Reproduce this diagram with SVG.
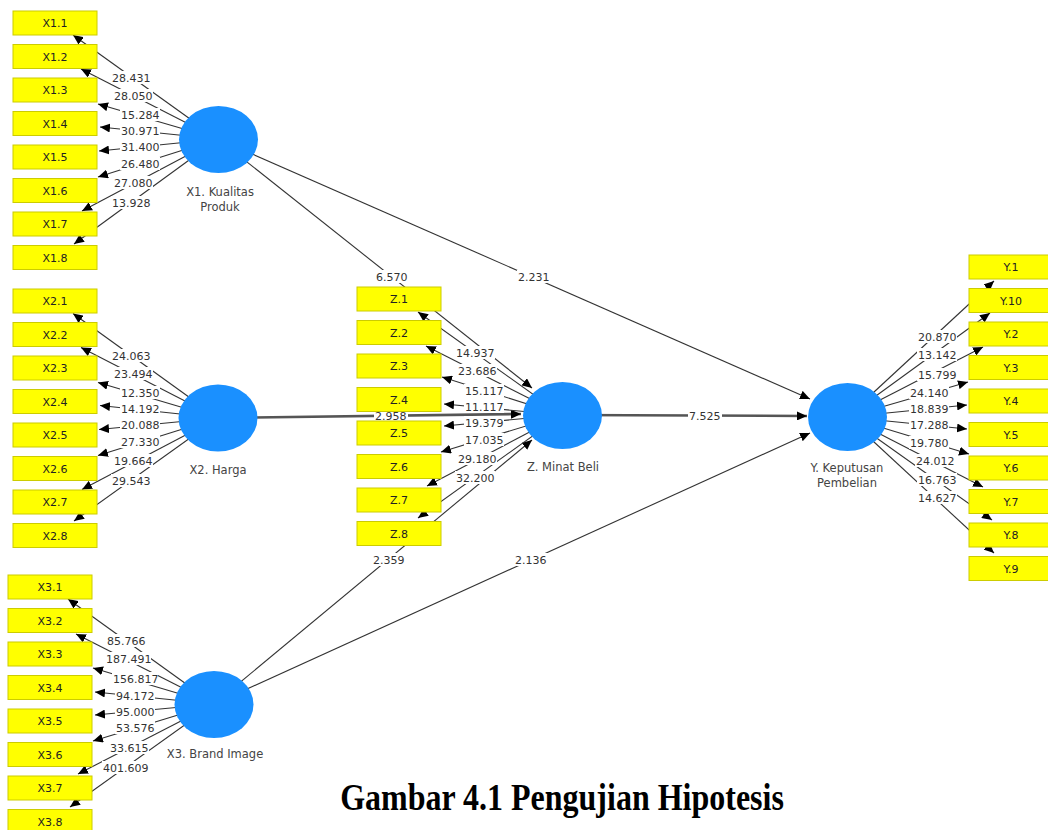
<svg xmlns="http://www.w3.org/2000/svg" width="1048" height="830" viewBox="0 0 1048 830">
<style>
.box{fill:#ffff00;stroke:#cccc00;stroke-width:1}
.bt{font-family:"DejaVu Sans",sans-serif;font-size:11px;fill:#222;text-anchor:middle}
.lv{fill:#1a90ff}
.nt{font-family:"DejaVu Sans",sans-serif;font-size:11.5px;fill:#444;text-anchor:middle}
.ln{stroke:#333;stroke-width:1.1;fill:none;marker-end:url(#ah)}
.thick{stroke:#555;stroke-width:2.6;fill:none;marker-end:url(#ah)}
.lb{font-family:"DejaVu Sans",sans-serif;font-size:11px;fill:#333}
.bg{fill:#fff}
.title{font-family:"Liberation Serif","Times New Roman",serif;font-size:32px;font-weight:bold;fill:#000;text-anchor:middle}
</style>
<defs>
<marker id="ah" markerUnits="userSpaceOnUse" markerWidth="11" markerHeight="9" refX="10" refY="4.5" orient="auto">
<path d="M0,0 L10,4.5 L0,9 z" fill="#000"/>
</marker>
</defs>
<g id="connectors">
<line class="ln" x1="218" y1="139" x2="532" y2="388"/>
<line class="ln" x1="218" y1="139" x2="810" y2="399"/>
<line class="thick" x1="218" y1="418" x2="521" y2="414"/>
<line class="thick" x1="562" y1="415" x2="807" y2="416"/>
<line class="ln" x1="214" y1="704" x2="532" y2="440"/>
<line class="ln" x1="214" y1="704" x2="810" y2="433"/>
<line class="ln" x1="218" y1="139" x2="73" y2="35"/>
<line class="ln" x1="218" y1="139" x2="81" y2="69"/>
<line class="ln" x1="218" y1="139" x2="98" y2="104"/>
<line class="ln" x1="218" y1="139" x2="100" y2="127"/>
<line class="ln" x1="218" y1="139" x2="99" y2="151"/>
<line class="ln" x1="218" y1="139" x2="98" y2="177"/>
<line class="ln" x1="218" y1="139" x2="82" y2="211"/>
<line class="ln" x1="218" y1="139" x2="74" y2="244"/>
<line class="ln" x1="218" y1="418" x2="73" y2="313.5"/>
<line class="ln" x1="218" y1="418" x2="81" y2="347.5"/>
<line class="ln" x1="218" y1="418" x2="98" y2="382.5"/>
<line class="ln" x1="218" y1="418" x2="100" y2="405.5"/>
<line class="ln" x1="218" y1="418" x2="99" y2="429.5"/>
<line class="ln" x1="218" y1="418" x2="98" y2="455.5"/>
<line class="ln" x1="218" y1="418" x2="82" y2="489.5"/>
<line class="ln" x1="218" y1="418" x2="74" y2="521"/>
<line class="ln" x1="214" y1="704" x2="68" y2="599"/>
<line class="ln" x1="214" y1="704" x2="76" y2="634"/>
<line class="ln" x1="214" y1="704" x2="93" y2="668"/>
<line class="ln" x1="214" y1="704" x2="95" y2="692"/>
<line class="ln" x1="214" y1="704" x2="95" y2="715"/>
<line class="ln" x1="214" y1="704" x2="93" y2="741"/>
<line class="ln" x1="214" y1="704" x2="78" y2="774"/>
<line class="ln" x1="214" y1="704" x2="70" y2="807"/>
<line class="ln" x1="562" y1="415" x2="418" y2="312"/>
<line class="ln" x1="562" y1="415" x2="426" y2="346"/>
<line class="ln" x1="562" y1="415" x2="442" y2="377"/>
<line class="ln" x1="562" y1="415" x2="444" y2="404"/>
<line class="ln" x1="562" y1="415" x2="444" y2="426"/>
<line class="ln" x1="562" y1="415" x2="441" y2="452"/>
<line class="ln" x1="562" y1="415" x2="427" y2="486"/>
<line class="ln" x1="562" y1="415" x2="418" y2="518"/>
<line class="ln" x1="847" y1="417" x2="994" y2="281"/>
<line class="ln" x1="847" y1="417" x2="990" y2="313"/>
<line class="ln" x1="847" y1="417" x2="983" y2="347"/>
<line class="ln" x1="847" y1="417" x2="968" y2="382"/>
<line class="ln" x1="847" y1="417" x2="967" y2="405"/>
<line class="ln" x1="847" y1="417" x2="967" y2="429"/>
<line class="ln" x1="847" y1="417" x2="969" y2="454"/>
<line class="ln" x1="847" y1="417" x2="983" y2="487"/>
<line class="ln" x1="847" y1="417" x2="992" y2="520"/>
<line class="ln" x1="847" y1="417" x2="994" y2="553"/>
<rect class="bg" x="375" y="270" width="34" height="13"/><text class="lb" x="376" y="281">6.570</text>
<rect class="bg" x="517" y="270" width="34" height="13"/><text class="lb" x="518" y="281">2.231</text>
<rect class="bg" x="374" y="409" width="34" height="13"/><text class="lb" x="375" y="420">2.958</text>
<rect class="bg" x="688" y="409" width="34" height="13"/><text class="lb" x="689" y="420">7.525</text>
<rect class="bg" x="372" y="553" width="34" height="13"/><text class="lb" x="373" y="564">2.359</text>
<rect class="bg" x="514" y="553" width="34" height="13"/><text class="lb" x="515" y="564">2.136</text>
<rect class="bg" x="111" y="71" width="40" height="13"/><text class="lb" x="112" y="82">28.431</text>
<rect class="bg" x="113" y="89" width="40" height="13"/><text class="lb" x="114" y="100">28.050</text>
<rect class="bg" x="120" y="108" width="40" height="13"/><text class="lb" x="121" y="119">15.284</text>
<rect class="bg" x="120" y="124" width="40" height="13"/><text class="lb" x="121" y="135">30.971</text>
<rect class="bg" x="120" y="140" width="40" height="13"/><text class="lb" x="121" y="151">31.400</text>
<rect class="bg" x="120" y="157" width="40" height="13"/><text class="lb" x="121" y="168">26.480</text>
<rect class="bg" x="113" y="176" width="40" height="13"/><text class="lb" x="114" y="187">27.080</text>
<rect class="bg" x="111" y="196" width="40" height="13"/><text class="lb" x="112" y="207">13.928</text>
<rect class="bg" x="111" y="349" width="40" height="13"/><text class="lb" x="112" y="360">24.063</text>
<rect class="bg" x="113" y="367" width="40" height="13"/><text class="lb" x="114" y="378">23.494</text>
<rect class="bg" x="120" y="386" width="40" height="13"/><text class="lb" x="121" y="397">12.350</text>
<rect class="bg" x="120" y="402" width="40" height="13"/><text class="lb" x="121" y="413">14.192</text>
<rect class="bg" x="120" y="418" width="40" height="13"/><text class="lb" x="121" y="429">20.088</text>
<rect class="bg" x="120" y="435" width="40" height="13"/><text class="lb" x="121" y="446">27.330</text>
<rect class="bg" x="113" y="454" width="40" height="13"/><text class="lb" x="114" y="465">19.664</text>
<rect class="bg" x="111" y="474" width="40" height="13"/><text class="lb" x="112" y="485">29.543</text>
<rect class="bg" x="106" y="634" width="40" height="13"/><text class="lb" x="107" y="645">85.766</text>
<rect class="bg" x="105" y="652" width="46" height="13"/><text class="lb" x="106" y="663">187.491</text>
<rect class="bg" x="112" y="672" width="46" height="13"/><text class="lb" x="113" y="683">156.817</text>
<rect class="bg" x="115" y="689" width="40" height="13"/><text class="lb" x="116" y="700">94.172</text>
<rect class="bg" x="115" y="705" width="40" height="13"/><text class="lb" x="116" y="716">95.000</text>
<rect class="bg" x="115" y="721" width="40" height="13"/><text class="lb" x="116" y="732">53.576</text>
<rect class="bg" x="109" y="741" width="40" height="13"/><text class="lb" x="110" y="752">33.615</text>
<rect class="bg" x="102" y="761" width="46" height="13"/><text class="lb" x="103" y="772">401.609</text>
<rect class="bg" x="455" y="346" width="40" height="13"/><text class="lb" x="456" y="357">14.937</text>
<rect class="bg" x="457" y="364" width="40" height="13"/><text class="lb" x="458" y="375">23.686</text>
<rect class="bg" x="464" y="384" width="40" height="13"/><text class="lb" x="465" y="395">15.117</text>
<rect class="bg" x="464" y="400" width="40" height="13"/><text class="lb" x="465" y="411">11.117</text>
<rect class="bg" x="464" y="416" width="40" height="13"/><text class="lb" x="465" y="427">19.379</text>
<rect class="bg" x="464" y="433" width="40" height="13"/><text class="lb" x="465" y="444">17.035</text>
<rect class="bg" x="457" y="452" width="40" height="13"/><text class="lb" x="458" y="463">29.180</text>
<rect class="bg" x="455" y="471" width="40" height="13"/><text class="lb" x="456" y="482">32.200</text>
<rect class="bg" x="917" y="330" width="40" height="13"/><text class="lb" x="918" y="341">20.870</text>
<rect class="bg" x="917" y="348" width="40" height="13"/><text class="lb" x="918" y="359">13.142</text>
<rect class="bg" x="917" y="368" width="40" height="13"/><text class="lb" x="918" y="379">15.799</text>
<rect class="bg" x="909" y="386" width="40" height="13"/><text class="lb" x="910" y="397">24.140</text>
<rect class="bg" x="909" y="402" width="40" height="13"/><text class="lb" x="910" y="413">18.839</text>
<rect class="bg" x="909" y="418" width="40" height="13"/><text class="lb" x="910" y="429">17.288</text>
<rect class="bg" x="909" y="436" width="40" height="13"/><text class="lb" x="910" y="447">19.780</text>
<rect class="bg" x="915" y="454" width="40" height="13"/><text class="lb" x="916" y="465">24.012</text>
<rect class="bg" x="917" y="473" width="40" height="13"/><text class="lb" x="918" y="484">16.763</text>
<rect class="bg" x="917" y="491" width="40" height="13"/><text class="lb" x="918" y="502">14.627</text>
</g>
<g id="X1.1"><rect class="box" x="13" y="11" width="84" height="24"/><text class="bt" x="55" y="27">X1.1</text></g>
<g id="X1.2"><rect class="box" x="13" y="44.5" width="84" height="24"/><text class="bt" x="55" y="60.5">X1.2</text></g>
<g id="X1.3"><rect class="box" x="13" y="78" width="84" height="24"/><text class="bt" x="55" y="94">X1.3</text></g>
<g id="X1.4"><rect class="box" x="13" y="111.5" width="84" height="24"/><text class="bt" x="55" y="127.5">X1.4</text></g>
<g id="X1.5"><rect class="box" x="13" y="145" width="84" height="24"/><text class="bt" x="55" y="161">X1.5</text></g>
<g id="X1.6"><rect class="box" x="13" y="178.5" width="84" height="24"/><text class="bt" x="55" y="194.5">X1.6</text></g>
<g id="X1.7"><rect class="box" x="13" y="212" width="84" height="24"/><text class="bt" x="55" y="228">X1.7</text></g>
<g id="X1.8"><rect class="box" x="13" y="245.5" width="84" height="24"/><text class="bt" x="55" y="261.5">X1.8</text></g>
<g id="X2.1"><rect class="box" x="13" y="289" width="84" height="24"/><text class="bt" x="55" y="305">X2.1</text></g>
<g id="X2.2"><rect class="box" x="13" y="322.5" width="84" height="24"/><text class="bt" x="55" y="338.5">X2.2</text></g>
<g id="X2.3"><rect class="box" x="13" y="356" width="84" height="24"/><text class="bt" x="55" y="372">X2.3</text></g>
<g id="X2.4"><rect class="box" x="13" y="389.5" width="84" height="24"/><text class="bt" x="55" y="405.5">X2.4</text></g>
<g id="X2.5"><rect class="box" x="13" y="423" width="84" height="24"/><text class="bt" x="55" y="439">X2.5</text></g>
<g id="X2.6"><rect class="box" x="13" y="456.5" width="84" height="24"/><text class="bt" x="55" y="472.5">X2.6</text></g>
<g id="X2.7"><rect class="box" x="13" y="490" width="84" height="24"/><text class="bt" x="55" y="506">X2.7</text></g>
<g id="X2.8"><rect class="box" x="13" y="523.5" width="84" height="24"/><text class="bt" x="55" y="539.5">X2.8</text></g>
<g id="X3.1"><rect class="box" x="8" y="575" width="84" height="24"/><text class="bt" x="50" y="591">X3.1</text></g>
<g id="X3.2"><rect class="box" x="8" y="608.5" width="84" height="24"/><text class="bt" x="50" y="624.5">X3.2</text></g>
<g id="X3.3"><rect class="box" x="8" y="642" width="84" height="24"/><text class="bt" x="50" y="658">X3.3</text></g>
<g id="X3.4"><rect class="box" x="8" y="675.5" width="84" height="24"/><text class="bt" x="50" y="691.5">X3.4</text></g>
<g id="X3.5"><rect class="box" x="8" y="709" width="84" height="24"/><text class="bt" x="50" y="725">X3.5</text></g>
<g id="X3.6"><rect class="box" x="8" y="742.5" width="84" height="24"/><text class="bt" x="50" y="758.5">X3.6</text></g>
<g id="X3.7"><rect class="box" x="8" y="776" width="84" height="24"/><text class="bt" x="50" y="792">X3.7</text></g>
<g id="X3.8"><rect class="box" x="8" y="809.5" width="84" height="24"/><text class="bt" x="50" y="825.5">X3.8</text></g>
<g id="Z.1"><rect class="box" x="357" y="287" width="84" height="24"/><text class="bt" x="399" y="303">Z.1</text></g>
<g id="Z.2"><rect class="box" x="357" y="320.5" width="84" height="24"/><text class="bt" x="399" y="336.5">Z.2</text></g>
<g id="Z.3"><rect class="box" x="357" y="354" width="84" height="24"/><text class="bt" x="399" y="370">Z.3</text></g>
<g id="Z.4"><rect class="box" x="357" y="387.5" width="84" height="24"/><text class="bt" x="399" y="403.5">Z.4</text></g>
<g id="Z.5"><rect class="box" x="357" y="421" width="84" height="24"/><text class="bt" x="399" y="437">Z.5</text></g>
<g id="Z.6"><rect class="box" x="357" y="454.5" width="84" height="24"/><text class="bt" x="399" y="470.5">Z.6</text></g>
<g id="Z.7"><rect class="box" x="357" y="488" width="84" height="24"/><text class="bt" x="399" y="504">Z.7</text></g>
<g id="Z.8"><rect class="box" x="357" y="521.5" width="84" height="24"/><text class="bt" x="399" y="537.5">Z.8</text></g>
<g id="Y.1"><rect class="box" x="969" y="255" width="84" height="24"/><text class="bt" x="1011" y="271">Y.1</text></g>
<g id="Y.10"><rect class="box" x="969" y="288.5" width="84" height="24"/><text class="bt" x="1011" y="304.5">Y.10</text></g>
<g id="Y.2"><rect class="box" x="969" y="322" width="84" height="24"/><text class="bt" x="1011" y="338">Y.2</text></g>
<g id="Y.3"><rect class="box" x="969" y="355.5" width="84" height="24"/><text class="bt" x="1011" y="371.5">Y.3</text></g>
<g id="Y.4"><rect class="box" x="969" y="389" width="84" height="24"/><text class="bt" x="1011" y="405">Y.4</text></g>
<g id="Y.5"><rect class="box" x="969" y="422.5" width="84" height="24"/><text class="bt" x="1011" y="438.5">Y.5</text></g>
<g id="Y.6"><rect class="box" x="969" y="456" width="84" height="24"/><text class="bt" x="1011" y="472">Y.6</text></g>
<g id="Y.7"><rect class="box" x="969" y="489.5" width="84" height="24"/><text class="bt" x="1011" y="505.5">Y.7</text></g>
<g id="Y.8"><rect class="box" x="969" y="523" width="84" height="24"/><text class="bt" x="1011" y="539">Y.8</text></g>
<g id="Y.9"><rect class="box" x="969" y="556.5" width="84" height="24"/><text class="bt" x="1011" y="572.5">Y.9</text></g>
<g id="X1"><ellipse class="lv" cx="218.5" cy="139.5" rx="39.5" ry="33.5"/><text class="nt" x="220" y="196">X1. Kualitas</text><text class="nt" x="220" y="211">Produk</text></g>
<g id="X2"><ellipse class="lv" cx="218" cy="418" rx="39.5" ry="33.5"/><text class="nt" x="218" y="474">X2. Harga</text></g>
<g id="X3"><ellipse class="lv" cx="214" cy="704.5" rx="39.5" ry="33.5"/><text class="nt" x="215" y="758">X3. Brand Image</text></g>
<g id="Z"><ellipse class="lv" cx="562.5" cy="415.5" rx="39.5" ry="33.5"/><text class="nt" x="563" y="471">Z. Minat Beli</text></g>
<g id="Y"><ellipse class="lv" cx="847.5" cy="417" rx="39.5" ry="34"/><text class="nt" x="847" y="472">Y. Keputusan</text><text class="nt" x="847" y="487">Pembelian</text></g>
<text class="title" transform="translate(562,810) scale(1,1.18)" x="0" y="0">Gambar 4.1 Pengujian Hipotesis</text>
</svg>
